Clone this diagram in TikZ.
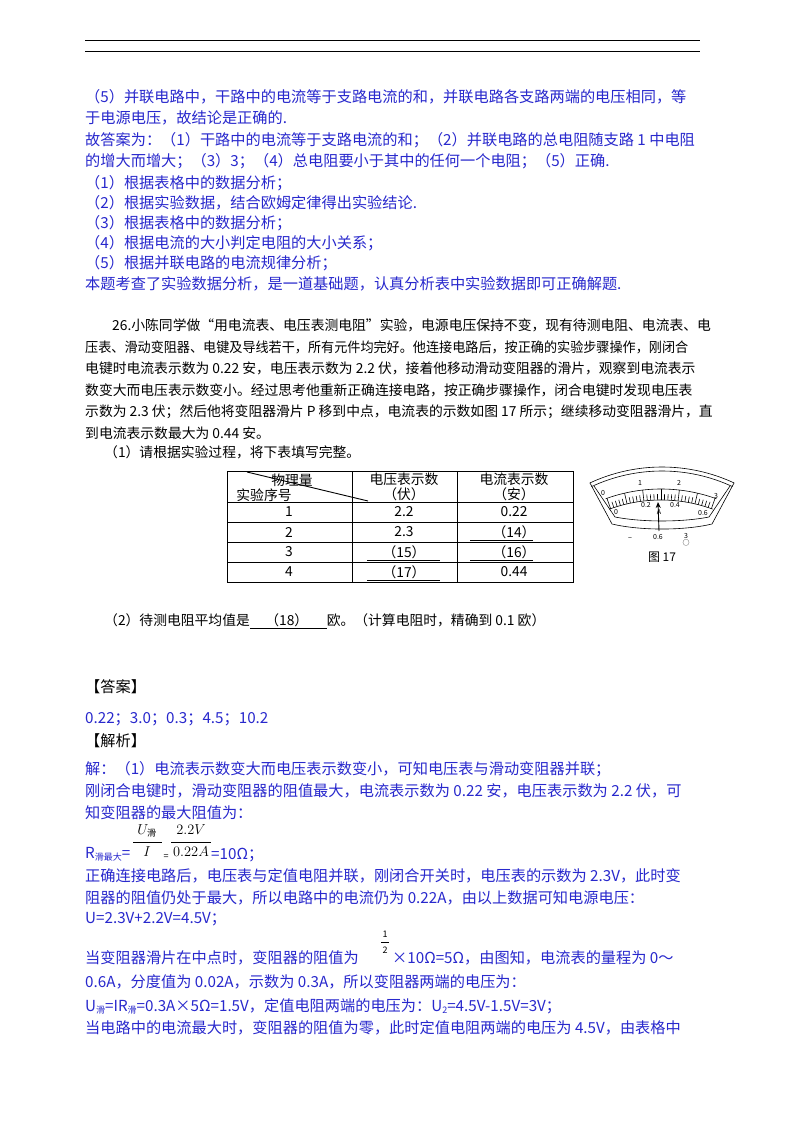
\documentclass[tikz,border=0pt]{standalone}
\usepackage{fontspec}
\setmainfont{Noto Sans CJK SC}
\usetikzlibrary{arrows.meta}
\definecolor{myblue}{RGB}{40,40,205}
\newcommand\fsA{\fontsize{15.2}{15}\selectfont}
\newcommand\fsB{\fontsize{13.8}{14}\selectfont}
\newcommand\fsS{\fontsize{9}{9}\selectfont}
\newcommand\fsM{\fontsize{14}{14}\selectfont}
\begin{document}
\begin{tikzpicture}[x=1pt,y=-1pt,
 bl/.style={anchor=west,inner sep=0,text=myblue,font=\fsA},
 bk/.style={anchor=west,inner sep=0,text=black,font=\fsB},
 cell/.style={inner sep=0,font=\fsB},
 mt/.style={inner sep=0,font=\fontsize{7}{7}\selectfont},
 fm/.style={inner sep=0,text=black,font=\fsM},
 uline/.style={line width=0.6pt}]
\useasboundingbox (0,0) rectangle (800,1132);
\fill[white] (0,0) rectangle (800,1132);
% header rules
\draw[line width=0.9pt] (85,40) -- (700,40);
\draw[line width=0.9pt] (85,51) -- (700,51);
% blue block 1
\node[bl] (b1) at (85,97) {（5）并联电路中，干路中的电流等于支路电流的和，并联电路各支路两端的电压相同，等};
\node[bl] (b2) at (85,118) {于电源电压，故结论是正确的.};
\node[bl] (b3) at (85,140) {故答案为：（1）干路中的电流等于支路电流的和；（2）并联电路的总电阻随支路 1 中电阻};
\node[bl] (b4) at (85,161) {的增大而增大；（3）3；（4）总电阻要小于其中的任何一个电阻；（5）正确.};
\node[bl] (b5) at (85,183) {（1）根据表格中的数据分析；};
\node[bl] (b6) at (85,203) {（2）根据实验数据，结合欧姆定律得出实验结论.};
\node[bl] (b7) at (85,223) {（3）根据表格中的数据分析；};
\node[bl] (b8) at (85,243) {（4）根据电流的大小判定电阻的大小关系；};
\node[bl] (b9) at (85,263) {（5）根据并联电路的电流规律分析；};
\node[bl] (b10) at (85,284) {本题考查了实验数据分析，是一道基础题，认真分析表中实验数据即可正确解题.};
% black problem
\node[bk] (k1) at (112,325) {26.小陈同学做“用电流表、电压表测电阻”实验，电源电压保持不变，现有待测电阻、电流表、电};
\node[bk] (k2) at (85,347) {\scalebox{0.95}[1]{压表、滑动变阻器、电键及导线若干，所有元件均完好。他连接电路后，按正确的实验步骤操作，刚闭合}};
\node[bk] (k3) at (85,368) {电键时电流表示数为 0.22 安，电压表示数为 2.2 伏，接着他移动滑动变阻器的滑片，观察到电流表示};
\node[bk] (k4) at (85,390) {数变大而电压表示数变小。经过思考他重新正确连接电路，按正确步骤操作，闭合电键时发现电压表};
\node[bk] (k5) at (85,412) {示数为 2.3 伏；然后他将变阻器滑片 P 移到中点，电流表的示数如图 17 所示；继续移动变阻器滑片，直};
\node[bk] (k6) at (85,433) {到电流表示数最大为 0.44 安。};
\node[bk] (k7) at (104,452) {（1）请根据实验过程，将下表填写完整。};
% table
\draw[line width=0.6pt] (227,471) rectangle (573,582);
\foreach \yy in {502,522,542,562} \draw[line width=0.6pt] (227,\yy) -- (573,\yy);
\draw[line width=0.6pt] (352,471) -- (352,582);
\draw[line width=0.6pt] (457,471) -- (457,582);
\draw[line width=0.9pt] (247,472) -- (368,501);
\node[cell] (h1) at (292,480) {物理量};
\node[cell] (h2) at (264,495) {实验序号};
\node[cell] (h3) at (404,479) {电压表示数};
\node[cell] (h4) at (404,494) {（伏）};
\node[cell] (h5) at (514,479) {电流表示数};
\node[cell] (h6) at (514,494) {（安）};
\node[cell] (r1) at (289,512) {1};
\node[cell] (r2) at (289,532) {2};
\node[cell] (r3) at (289,552) {3};
\node[cell] (r4) at (289,572) {4};
\node[cell] (v1) at (404,512) {2.2};
\node[cell] (v2) at (404,532) {2.3};
\node[cell] (v3) at (404,552) {（15）};
\node[cell] (v4) at (404,572) {（17）};
\node[cell] (c1) at (514,512) {0.22};
\node[cell] (c2) at (514,532) {（14）};
\node[cell] (c3) at (514,552) {（16）};
\node[cell] (c4) at (514,572) {0.44};
\draw[uline] (367,560) -- (440,560);
\draw[uline] (367,580) -- (440,580);
\draw[uline] (470,540) -- (533,540);
\draw[uline] (470,560) -- (533,560);
% meter
\begin{scope}[line width=0.6pt]
\coordinate (C) at (662,638);
\coordinate (S) at (661,651);
\draw (C) ++(-115:171) arc[start angle=-115,end angle=-65,radius=171];
\draw (C) ++(-115:167) arc[start angle=-115,end angle=-65,radius=167];
\draw (590,483) -- (612,524) .. controls (640,530.7) and (684,530.7) .. (712,524) -- (734,483);
\draw (594,486) -- (615,517) .. controls (642,522.3) and (682,522.3) .. (709,517) -- (730,486);
\draw (S) ++(-110:162) arc[start angle=-110,end angle=-70,radius=162];
\draw (S) ++(-110:151) arc[start angle=-110,end angle=-70,radius=151];
\foreach \i in {0,...,30} {
  \pgfmathsetmacro\ang{-109.5+\i*39/30}
  \pgfmathsetmacro\rr{ifthenelse(mod(\i,5)==0,162,157)}
  \draw (S) ++(\ang:151) -- ++(\ang:\rr-151);
}
\end{scope}
\node[mt] (m0) at (603,493) {0};
\node[mt] (m1) at (640,483) {1};
\node[mt] (m2) at (679,483) {2};
\node[mt] (m3) at (716,496) {3};
\node[mt] (n0) at (616,512) {0};
\node[mt] (n2) at (646,505) {0.2};
\node[mt] (n4) at (675,505) {0.4};
\node[mt] (n6) at (703,513) {0.6};
\node[mt] (nA) at (659,512) {A};
\coordinate (pt) at (658,502);
\coordinate (pb) at (659,531);
\draw[line width=0.9pt,-{Stealth[length=6pt,width=5pt]}] (pb) -- (pt);
\node[mt] (t1) at (630,539) {−};
\node[mt] (t2) at (658,537) {0.6};
\node[mt] (t3) at (686,536) {3};
\node[mt] (t4) at (686,543) {○};
\node[inner sep=0,font=\fontsize{12}{12}\selectfont] (fig) at (662,557) {图 17};
\node[bk] (q2) at (104,621) {（2）待测电阻平均值是\underline{\ \ \ \ \ （18）\ \ \ \ \ \ }欧。（计算电阻时，精确到 0.1 欧）};
% answer
\node[bk,font=\fsA] (ans) at (85,687) {【答案】};
\node[bl] (a1) at (85,719) {0.22；3.0；0.3；4.5；10.2};
\node[bk,font=\fsA] (jx) at (85,741) {【解析】};
\node[bl] (s1) at (85,769) {解：（1）电流表示数变大而电压表示数变小，可知电压表与滑动变阻器并联；};
\node[bl] (s2) at (85,791) {刚闭合电键时，滑动变阻器的阻值最大，电流表示数为 0.22 安，电压表示数为 2.2 伏，可};
\node[bl] (s3) at (85,813) {知变阻器的最大阻值为：};
\node[bl] (s4) at (85,854) {R\raisebox{-2pt}{\fsS 滑最大}=};
\node[fm] (f1n) at (147,831) {$U_{\mbox{\fsS 滑}}$};
\node[fm] (f1d) at (147,852) {$I$};
\draw (133,842) -- (162,842);
\node[fm,font=\fsS] (eq1) at (166,857) {=};
\node[fm] (f2n) at (191,830) {$2.2V$};
\node[fm] (f2d) at (191,852) {$0.22A$};
\draw (171,842) -- (211,842);
\node[bl] (s4b) at (211,855) {=10Ω；};
\node[bl] (s5) at (85,876) {正确连接电路后，电压表与定值电阻并联，刚闭合开关时，电压表的示数为 2.3V，此时变};
\node[bl] (s6) at (85,898) {阻器的阻值仍处于最大，所以电路中的电流仍为 0.22A，由以上数据可知电源电压：};
\node[bl] (s7) at (85,919) {U=2.3V+2.2V=4.5V；};
\node[inner sep=0,text=black,font=\fsS] (h1n) at (385,934) {1};
\draw (381,942) -- (389,942);
\node[inner sep=0,text=black,font=\fsS] (h1d) at (385,950) {2};
\node[bl] (s8) at (85,958) {当变阻器滑片在中点时，变阻器的阻值为};
\node[bl] (s8b) at (392,958) {×10Ω=5Ω，由图知，电流表的量程为 0～};
\node[bl] (s9) at (85,982) {0.6A，分度值为 0.02A，示数为 0.3A，所以变阻器两端的电压为：};
\node[bl] (s10) at (85,1006) {U\raisebox{-2pt}{\fsS 滑}=IR\raisebox{-2pt}{\fsS 滑}=0.3A×5Ω=1.5V，定值电阻两端的电压为：U\raisebox{-2pt}{\fsS 2}=4.5V-1.5V=3V；};
\node[bl] (s11) at (85,1028) {当电路中的电流最大时，变阻器的阻值为零，此时定值电阻两端的电压为 4.5V，由表格中};
\end{tikzpicture}
\end{document}
